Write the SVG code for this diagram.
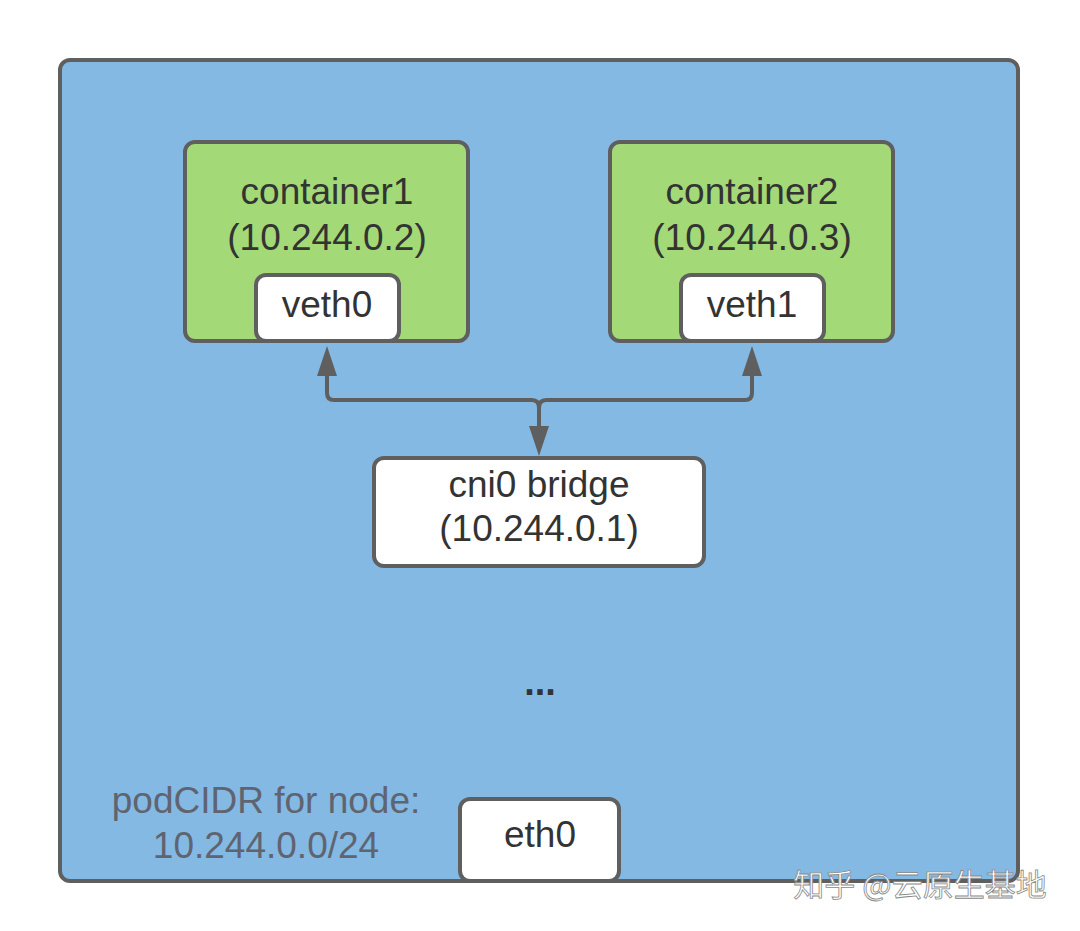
<svg xmlns="http://www.w3.org/2000/svg" width="1080" height="931" viewBox="0 0 1080 931">
<style>
.box{stroke:#5f5f5f;stroke-width:4}
.t{font-family:"Liberation Sans",Arial,sans-serif;font-size:37px;fill:#333;text-anchor:middle}
.c{fill:none;stroke:#5f5f5f;stroke-width:4;stroke-linejoin:round}
</style>
<rect width="1080" height="931" fill="#fff"/>
<g id="node"><rect class="box" x="60" y="60" width="958" height="821" rx="10" fill="#83b9e3"/></g>
<g id="container1"><rect class="box" x="185" y="142" width="283" height="199" rx="10" fill="#a3d977"/>
<text class="t" x="327" y="204">container1</text><text class="t" x="327" y="250">(10.244.0.2)</text></g>
<g id="veth0"><rect class="box" x="256" y="275" width="143" height="66" rx="10" fill="#fff"/><text class="t" x="327" y="317">veth0</text></g>
<g id="container2"><rect class="box" x="610" y="142" width="283" height="199" rx="10" fill="#a3d977"/>
<text class="t" x="752" y="204">container2</text><text class="t" x="752" y="250">(10.244.0.3)</text></g>
<g id="veth1"><rect class="box" x="681" y="275" width="143" height="66" rx="10" fill="#fff"/><text class="t" x="752" y="317">veth1</text></g>
<g id="bridge"><rect class="box" x="374" y="458" width="330" height="108" rx="10" fill="#fff"/>
<text class="t" x="539" y="497">cni0 bridge</text><text class="t" x="539" y="541">(10.244.0.1)</text></g>
<g id="eth0"><rect class="box" x="460" y="799" width="159" height="82" rx="10" fill="#fff"/><text class="t" x="540" y="847">eth0</text></g>
<g id="connectors">
<path class="c" d="M327,375 V393 Q327,400 334,400 H532 Q539,400 539,408 Q539,400 546,400 H745 Q752,400 752,393 V375"/>
<path d="M317,376 L327,346 L337,376 Z M742,376 L752,346 L762,376 Z" fill="#5f5f5f"/>
<path class="c" d="M539,406 V428"/>
<path d="M529,426 L539,456 L549,426 Z" fill="#5f5f5f"/>
</g>
<text x="540" y="695" style="font-family:'Liberation Sans',sans-serif;font-size:38px;font-weight:bold;fill:#333;text-anchor:middle">...</text>
<text class="t" x="266" y="813" style="fill:#5f6470">podCIDR for node:</text>
<text class="t" x="266" y="858" style="fill:#5f6470">10.244.0.0/24</text>
<text x="920" y="896" style="font-family:'Noto Sans CJK SC',sans-serif;font-size:31px;fill:#fff;stroke:#888;stroke-width:0.8;text-anchor:middle">知乎 @云原生基地</text>
</svg>
